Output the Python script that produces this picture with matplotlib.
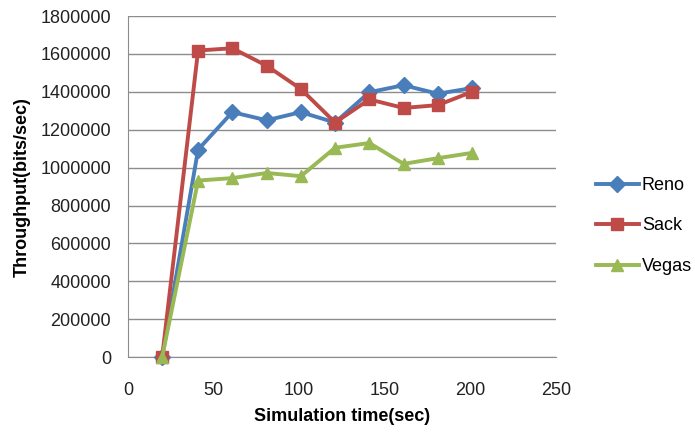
import matplotlib
matplotlib.use("Agg")
import matplotlib.pyplot as plt
from matplotlib import rcParams

rcParams.update(
    {
        "font.family": ["Liberation Sans", "DejaVu Sans"],
        "font.size": 13,
    }
)

sim_time = [20, 41, 61, 81, 101, 121, 141, 161, 181, 201]
reno = [0, 1095000, 1293000, 1250000, 1293000, 1238000, 1398000, 1435000, 1390000, 1420000]
sack = [0, 1618000, 1630000, 1538000, 1415000, 1238000, 1360000, 1315000, 1330000, 1400000]
vegas = [0, 932000, 945000, 972000, 955000, 1105000, 1130000, 1020000, 1050000, 1078000]

series = [
    ("Reno", reno, "#4A7EBB", "D", 8),
    ("Sack", sack, "#BE4B48", "s", 9),
    ("Vegas", vegas, "#98B954", "^", 9),
]

fig, ax = plt.subplots(figsize=(6.95, 4.33), dpi=100)

for name, vals, color, marker, ms in series:
    ax.plot(sim_time, vals, color=color, lw=2.8, marker=marker, markersize=ms,
            markeredgecolor=color, label=name, clip_on=False, zorder=3)

ax.set_xlim(0, 250)
ax.set_ylim(0, 1800000)
ax.set_xticks(range(0, 251, 50))
ax.set_yticks(range(0, 1800001, 200000))
ax.ticklabel_format(style="plain", axis="y")

ax.yaxis.grid(color="#8c8c8c", linewidth=1)
ax.set_axisbelow(True)
for side in ["top", "right"]:
    ax.spines[side].set_visible(False)
for side in ["left", "bottom"]:
    ax.spines[side].set_color("#8c8c8c")
ax.tick_params(axis="y", length=0, pad=12, labelsize=13, colors="#222222")
ax.tick_params(axis="x", length=0, pad=18, labelsize=13, colors="#222222")

ax.set_xlabel("Simulation time(sec)", fontweight="bold", fontsize=13, labelpad=6)
ax.set_ylabel("Throughput(bits/sec)", fontweight="bold", fontsize=13, labelpad=7)

ax.legend(
    frameon=False,
    loc="center left",
    bbox_to_anchor=(1.055, 0.385),
    handlelength=2.4,
    handletextpad=0.15,
    labelspacing=1.3,
    fontsize=13,
)

fig.subplots_adjust(left=0.184, right=0.8, bottom=0.175, top=0.963)
fig.savefig("out.png", dpi=100)
